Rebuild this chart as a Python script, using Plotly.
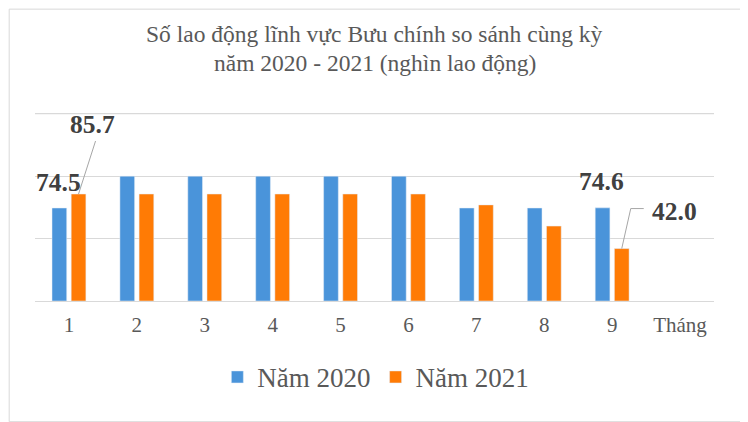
import plotly.graph_objects as go

# Data (thousand workers)
months = [1, 2, 3, 4, 5, 6, 7, 8, 9]
month_labels = ['1', '2', '3', '4', '5', '6', '7', '8', '9']
axis_end_label = 'Tháng'
workers_2020 = [74.5, 100, 100, 100, 100, 100, 74.5, 74.5, 74.6]
workers_2021 = [85.7, 85.7, 85.7, 85.7, 85.7, 85.7, 77.0, 60.0, 42.0]
grid_values = [0, 50, 100, 150]
title_lines = ['Số lao động lĩnh vực Bưu chính so sánh cùng kỳ',
               'năm 2020 - 2021 (nghìn lao động)']

BLUE = '#4A94DA'
ORANGE = '#FF7B05'
GRID = '#D9D9D9'
TEXT = '#595959'
SERIF = 'Liberation Serif, Times New Roman, serif'

bargap = 0.435
slot = (1 - bargap) / 4  # distance from category centre to each bar centre

fig = go.Figure()
fig.add_trace(go.Bar(x=months, y=workers_2020, name='Năm 2020', marker_color=BLUE))
fig.add_trace(go.Bar(x=months, y=workers_2021, name='Năm 2021', marker_color=ORANGE))

# title, two lines with tight spacing like the original
for text, ty in zip(title_lines, [1.398, 1.244]):
    fig.add_annotation(text=text, xref='paper', yref='paper', x=0.5, y=ty,
                       xanchor='center', yanchor='middle', showarrow=False,
                       font=dict(family=SERIF, size=23.5, color=TEXT))

# data labels shown in the reference (only first and last month)
labels = [
    (months[0] - slot, workers_2020[0], -1, 26),
    (months[0] + slot, workers_2021[0], 14, 70),
    (months[-1] - slot, workers_2020[-1], -1, 26),
    (months[-1] + slot, workers_2021[-1], 53, 37),
]
for x, y, dx, dy in labels:
    fig.add_annotation(x=x, y=y, text=f'{y:.1f}', showarrow=False,
                       xshift=dx, yshift=dy,
                       font=dict(family=SERIF, size=25.5, color='#404040', weight='bold'))

# leader lines from the moved labels back to their bars
leaders = [
    (months[0] + slot, workers_2021[0], 'M 0 0 L 17 53'),
    (months[-1] + slot, workers_2021[-1], 'M 0 0 L 9 40 L 22 40'),
]
for x, y, path in leaders:
    fig.add_shape(type='path', xref='x', yref='y', xsizemode='pixel', ysizemode='pixel',
                  xanchor=x, yanchor=y, path=path, line=dict(color='#A6A6A6', width=1))

# top gridline (plotly drops the one at the upper edge)
fig.add_hline(y=grid_values[-1], line=dict(color=GRID, width=1), layer='below')

# light frame around the chart
fig.add_shape(type='rect', xref='paper', yref='paper', x0=-0.038, x1=1.05, y0=-0.632, y1=1.528,
              line=dict(color=GRID, width=1), layer='below')

# the page puts the figure 8px in from the top-left corner, margins allow for it
fig.update_layout(
    width=748,
    height=422,
    margin=dict(l=26.5, r=41.5, t=101.8, b=128.7),
    paper_bgcolor='white',
    plot_bgcolor='white',
    bargap=bargap,
    bargroupgap=0.234,
    legend=dict(orientation='h', x=0.502, xanchor='center', y=-0.4, yanchor='middle',
                font=dict(family=SERIF, size=27, color=TEXT)),
    showlegend=True,
)
fig.update_xaxes(range=[0.5, 10.5], tickvals=months + [10], ticktext=month_labels + [axis_end_label],
                 showgrid=False, zeroline=False, showline=False, ticks='', ticklabelstandoff=9,
                 tickfont=dict(family=SERIF, size=21, color=TEXT))
fig.update_yaxes(range=[0, 153], tickvals=grid_values, showticklabels=False, showgrid=True,
                 gridcolor=GRID, zeroline=True, zerolinecolor=GRID, zerolinewidth=1, showline=False)

fig.write_html('out.html')
